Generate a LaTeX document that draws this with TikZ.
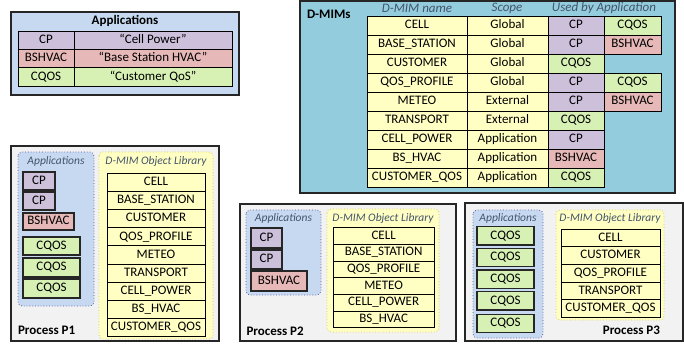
\documentclass[tikz,border=0pt]{standalone}
\usepackage{fontspec}
\setmainfont{Carlito}
\definecolor{cpc}{HTML}{CCC0DA}
\definecolor{bsc}{HTML}{E6B9B8}
\definecolor{cqc}{HTML}{D7F0B4}
\definecolor{yelc}{HTML}{FFFFC4}
\definecolor{appbg}{HTML}{C6D9F1}
\definecolor{dmbg}{HTML}{93CDDD}
\definecolor{procbg}{HTML}{F2F2F2}
\definecolor{hdr}{HTML}{44546A}
\definecolor{edge}{HTML}{262626}
\newcommand{\fz}{\fontsize{13}{15}\selectfont}
\newcommand{\fs}{\fontsize{11.5}{13}\selectfont}
\newcommand{\cbox}[6]{\node[#1, minimum width=#4pt, minimum height=#5pt, anchor=north west] (#2) at (#3) {#6};}
\begin{document}
\begin{tikzpicture}[x=1pt,y=-1pt,
  every node/.style={inner sep=0pt, outer sep=0pt},
  cellbase/.style={draw=black, line width=0.8pt, font=\fz, text height=9pt, text depth=2.5pt},
  yc/.style={cellbase, fill=yelc},
  cpb/.style={cellbase, fill=cpc},
  bsb/.style={cellbase, fill=bsc},
  cqb/.style={cellbase, fill=cqc},
  appbox/.style={draw=edge, line width=1.3pt, font=\fz, text height=9pt, text depth=2.5pt},
  outerbox/.style={draw=edge, line width=1.6pt},
  appgroup/.style={draw=gray!70!blue, dotted, line width=0.8pt, fill=appbg, rounded corners=4pt},
  libgroup/.style={draw=yellow!60!gray, dotted, line width=0.8pt, fill=yelc, rounded corners=4pt},
  grouptitle/.style={font=\fs\itshape, text=hdr},
  proctitle/.style={font=\fz\bfseries, text=black}
]
\useasboundingbox (0,0) rectangle (684,344);

% ---------------- Applications legend ----------------
\draw[outerbox, fill=appbg] (11,12) rectangle (239,95);
\node[font=\fz\bfseries] (apptitle) at (125,21) {Applications};
\cbox{cpb}{lcp}{18,31}{56}{18.3}{CP}
\cbox{cpb}{lcpd}{74,31}{158}{18.3}{“Cell Power”}
\cbox{bsb}{lbs}{18,49.3}{56}{18.3}{BSHVAC}
\cbox{bsb}{lbsd}{74,49.3}{158}{18.3}{“Base Station HVAC”}
\cbox{cqb}{lcq}{18,67.6}{56}{18.4}{CQOS}
\cbox{cqb}{lcqd}{74,67.6}{158}{18.4}{“Customer QoS”}

% ---------------- D-MIMs ----------------
\draw[outerbox, fill=dmbg] (300,1) rectangle (675,193);
\node[font=\fz\bfseries, anchor=west] (dmtitle) at (307,14) {D-MIMs};
\node[grouptitle, font=\fz\itshape] (hname) at (417,8.5) {D-MIM name};
\node[grouptitle, font=\fz\itshape] (hscope) at (507,8.5) {Scope};
\node[grouptitle, font=\fz\itshape] (hused) at (604,8.5) {Used by Application};
% rows
\cbox{yc}{n1}{367,16}{100}{19}{CELL}
\cbox{yc}{s1}{467,16}{81}{19}{Global}
\cbox{cpb}{a1}{548,16}{56}{19}{CP}
\cbox{cqb}{b1}{604,16}{57}{19}{CQOS}
\cbox{yc}{n2}{367,35}{100}{19}{BASE\_STATION}
\cbox{yc}{s2}{467,35}{81}{19}{Global}
\cbox{cpb}{a2}{548,35}{56}{19}{CP}
\cbox{bsb}{b2}{604,35}{57}{19}{BSHVAC}
\cbox{yc}{n3}{367,54}{100}{19}{CUSTOMER}
\cbox{yc}{s3}{467,54}{81}{19}{Global}
\cbox{cqb}{a3}{548,54}{56}{19}{CQOS}
\cbox{yc}{n4}{367,73}{100}{19}{QOS\_PROFILE}
\cbox{yc}{s4}{467,73}{81}{19}{Global}
\cbox{cpb}{a4}{548,73}{56}{19}{CP}
\cbox{cqb}{b4}{604,73}{57}{19}{CQOS}
\cbox{yc}{n5}{367,92}{100}{19}{METEO}
\cbox{yc}{s5}{467,92}{81}{19}{External}
\cbox{cpb}{a5}{548,92}{56}{19}{CP}
\cbox{bsb}{b5}{604,92}{57}{19}{BSHVAC}
\cbox{yc}{n6}{367,111}{100}{19}{TRANSPORT}
\cbox{yc}{s6}{467,111}{81}{19}{External}
\cbox{cqb}{a6}{548,111}{56}{19}{CQOS}
\cbox{yc}{n7}{367,130}{100}{19}{CELL\_POWER}
\cbox{yc}{s7}{467,130}{81}{19}{Application}
\cbox{cpb}{a7}{548,130}{56}{19}{CP}
\cbox{yc}{n8}{367,149}{100}{19}{BS\_HVAC}
\cbox{yc}{s8}{467,149}{81}{19}{Application}
\cbox{bsb}{a8}{548,149}{56}{19}{BSHVAC}
\cbox{yc}{n9}{367,168}{100}{19}{CUSTOMER\_QOS}
\cbox{yc}{s9}{467,168}{81}{19}{Application}
\cbox{cqb}{a9}{548,168}{56}{19}{CQOS}

% ---------------- Process P1 ----------------
\draw[outerbox, fill=procbg] (11,146) rectangle (219,341);
\draw[appgroup] (18,152) rectangle (94,306);
\draw[libgroup] (99,152) rectangle (213,339);
\node[grouptitle] (p1at) at (56,161) {Applications};
\node[grouptitle] (p1lt) at (156,161) {D-MIM Object Library};
\cbox{appbox, fill=cpc}{p1a1}{23,172}{32}{18}{CP}
\cbox{appbox, fill=cpc}{p1a2}{23,192}{32}{18}{CP}
\cbox{appbox, fill=bsc}{p1a3}{23,213}{51}{17}{BSHVAC}
\cbox{appbox, fill=cqc}{p1a4}{23,237}{57}{18}{CQOS}
\cbox{appbox, fill=cqc}{p1a5}{23,258}{57}{19}{CQOS}
\cbox{appbox, fill=cqc}{p1a6}{23,279}{57}{19}{CQOS}
\cbox{yc}{p1l1}{107,173.3}{98}{18.15}{CELL}
\cbox{yc}{p1l2}{107,191.45}{98}{18.15}{BASE\_STATION}
\cbox{yc}{p1l3}{107,209.6}{98}{18.15}{CUSTOMER}
\cbox{yc}{p1l4}{107,227.75}{98}{18.15}{QOS\_PROFILE}
\cbox{yc}{p1l5}{107,245.9}{98}{18.15}{METEO}
\cbox{yc}{p1l6}{107,264.05}{98}{18.15}{TRANSPORT}
\cbox{yc}{p1l7}{107,282.2}{98}{18.15}{CELL\_POWER}
\cbox{yc}{p1l8}{107,300.35}{98}{18.15}{BS\_HVAC}
\cbox{yc}{p1l9}{107,318.5}{98}{18.2}{CUSTOMER\_QOS}
\node[proctitle, anchor=west] (p1t) at (18,330.5) {Process P1};

% ---------------- Process P2 ----------------
\draw[outerbox, fill=procbg] (240,204) rectangle (456,341);
\draw[appgroup] (246,210) rectangle (321,295);
\draw[libgroup] (327,209) rectangle (439,332);
\node[grouptitle] (p2at) at (283.5,218) {Applications};
\node[grouptitle] (p2lt) at (383,218) {D-MIM Object Library};
\cbox{appbox, fill=cpc}{p2a1}{251,228}{31}{20}{CP}
\cbox{appbox, fill=cpc}{p2a2}{251,250}{31}{19}{CP}
\cbox{appbox, fill=bsc}{p2a3}{251,271}{56}{20}{BSHVAC}
\cbox{yc}{p2l1}{333.3,227.7}{100.7}{16.67}{CELL}
\cbox{yc}{p2l2}{333.3,244.37}{100.7}{16.67}{BASE\_STATION}
\cbox{yc}{p2l3}{333.3,261.04}{100.7}{16.67}{QOS\_PROFILE}
\cbox{yc}{p2l4}{333.3,277.71}{100.7}{16.67}{METEO}
\cbox{yc}{p2l5}{333.3,294.38}{100.7}{16.67}{CELL\_POWER}
\cbox{yc}{p2l6}{333.3,311.05}{100.7}{16.65}{BS\_HVAC}
\node[proctitle, anchor=west] (p2t) at (246.5,331) {Process P2};

% ---------------- Process P3 ----------------
\draw[outerbox, fill=procbg] (465,203) rectangle (683,341);
\draw[appgroup] (473,210) rectangle (543,338);
\draw[libgroup] (556,210) rectangle (664,320);
\node[grouptitle] (p3at) at (508,218) {Applications};
\node[grouptitle] (p3lt) at (610,218) {D-MIM Object Library};
\cbox{appbox, fill=cqc}{p3a1}{477,226.7}{57}{18.3}{CQOS}
\cbox{appbox, fill=cqc}{p3a2}{477,248.3}{57}{18.4}{CQOS}
\cbox{appbox, fill=cqc}{p3a3}{477,270}{57}{18.3}{CQOS}
\cbox{appbox, fill=cqc}{p3a4}{477,291.7}{57}{18.3}{CQOS}
\cbox{appbox, fill=cqc}{p3a5}{477,314.3}{57}{18}{CQOS}
\cbox{yc}{p3l1}{561,229.3}{99}{17.6}{CELL}
\cbox{yc}{p3l2}{561,246.9}{99}{17.6}{CUSTOMER}
\cbox{yc}{p3l3}{561,264.5}{99}{17.6}{QOS\_PROFILE}
\cbox{yc}{p3l4}{561,282.1}{99}{17.6}{TRANSPORT}
\cbox{yc}{p3l5}{561,299.7}{99}{17.6}{CUSTOMER\_QOS}
\node[proctitle, anchor=east] (p3t) at (660,330) {Process P3};
\end{tikzpicture}
\end{document}
